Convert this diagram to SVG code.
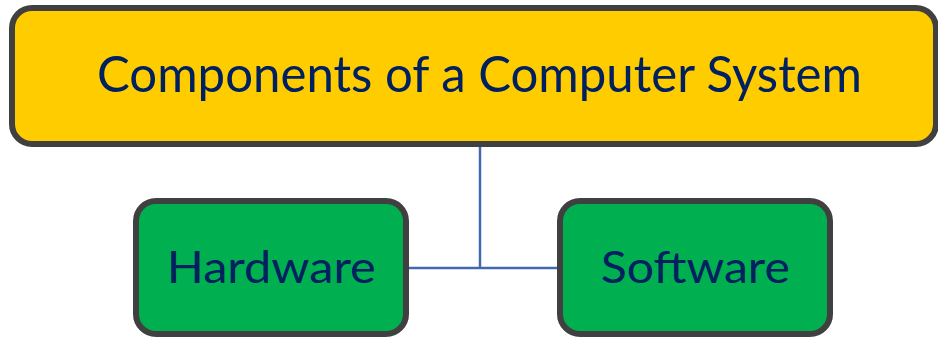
<svg xmlns="http://www.w3.org/2000/svg" width="938" height="338" viewBox="0 0 938 338">
<style>
.box{stroke:#404040;stroke-width:6}
.top{fill:#FFCC00}
.leaf{fill:#00B050}
.lbl{font-family:Lato,"Open Sans","Liberation Sans",sans-serif;fill:#002060;text-anchor:middle}
.conn{stroke:#4468B0;stroke-width:2.5;fill:none}
</style>
<rect width="938" height="338" fill="#FFFFFF"/>
<g id="connectors">
<path class="conn" d="M480 147 V268"/>
<path class="conn" d="M409 268 H557"/>
</g>
<g id="node-root">
<rect class="box top" x="12" y="8" width="924" height="136" rx="20"/>
<text class="lbl" x="479.5" y="92" font-size="50" textLength="765" lengthAdjust="spacingAndGlyphs">Components of a Computer System</text>
</g>
<g id="node-hardware">
<rect class="box leaf" x="136" y="201" width="270" height="133" rx="20"/>
<text class="lbl" x="271.3" y="283" font-size="44" textLength="209" lengthAdjust="spacingAndGlyphs">Hardware</text>
</g>
<g id="node-software">
<rect class="box leaf" x="560" y="201" width="270" height="133" rx="20"/>
<text class="lbl" x="695.3" y="283" font-size="44" textLength="189" lengthAdjust="spacingAndGlyphs">Software</text>
</g>
</svg>
